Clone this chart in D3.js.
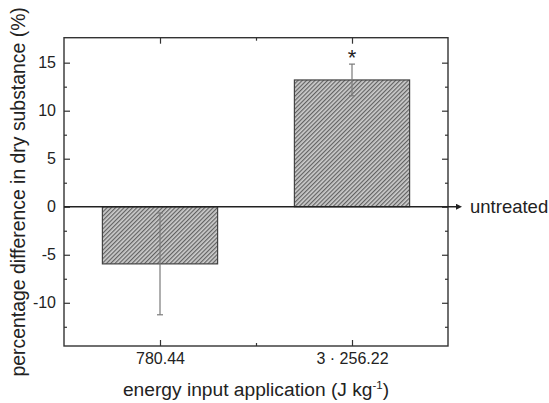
<!DOCTYPE html>
<html>
<head>
<meta charset="utf-8">
<script src="https://cdn.jsdelivr.net/npm/d3@7"></script>
<style>
  html, body { margin: 0; padding: 0; background: #fff; }
  svg { display: block; font-family: "Liberation Sans", Arial, sans-serif; }
</style>
</head>
<body>
<svg id="chart" width="549" height="403"></svg>
<script>
// Treatment groups and their mean change (%) with error (±)
const categories = ["780.44", "3 · 256.22"];
const means = [-5.95, 13.2];
const errors = [5.3, 1.65];
const significance = ["", "*"];
const yMajorTicks = [-10, -5, 0, 5, 10, 15];
const yMinorTicks = [-12.5, -7.5, -2.5, 2.5, 7.5, 12.5];
const xPositions = [1, 2];
const xMinorTicks = [1.5];

const svg = d3.select("#chart");
const plotLeft = 64, plotRight = 448, plotTop = 37.7, plotBottom = 346;

const x = d3.scaleLinear().domain([0.5, 2.5]).range([plotLeft, plotRight]);
const y = d3.scaleLinear().domain([-14.5, 17.6]).range([plotBottom, plotTop]);
const barWidth = 0.6;

// Hatch fill for the bars
const defs = svg.append("defs");
const pat = defs.append("pattern")
  .attr("id", "hatch")
  .attr("patternUnits", "userSpaceOnUse")
  .attr("width", 3).attr("height", 3)
  .attr("patternTransform", "rotate(45)");
pat.append("rect").attr("width", 3).attr("height", 3).attr("fill", "#cdcdcd");
pat.append("line").attr("x1", 0.6).attr("y1", 0).attr("x2", 0.6).attr("y2", 3)
  .attr("stroke", "#626262").attr("stroke-width", 1.2);

defs.append("marker")
  .attr("id", "arrow")
  .attr("viewBox", "0 0 10 10")
  .attr("refX", 0).attr("refY", 5)
  .attr("markerWidth", 6).attr("markerHeight", 6)
  .attr("markerUnits", "userSpaceOnUse")
  .attr("orient", "auto")
  .append("path").attr("d", "M0,0 L10,5 L0,10 Z").attr("fill", "#222");

// Bars
svg.append("g").selectAll("rect")
  .data(means)
  .join("rect")
  .attr("x", (d, i) => x(xPositions[i] - barWidth / 2))
  .attr("width", (d, i) => x(xPositions[i] + barWidth / 2) - x(xPositions[i] - barWidth / 2))
  .attr("y", d => y(Math.max(0, d)))
  .attr("height", d => Math.abs(y(d) - y(0)))
  .attr("fill", "url(#hatch)")
  .attr("stroke", "#444")
  .attr("stroke-width", 1.2);

// Error bars
const eb = svg.append("g").attr("stroke", "#7a7a7a").attr("stroke-width", 1.2);
means.forEach((m, i) => {
  const cx = x(xPositions[i]);
  const y1 = y(m + errors[i]), y2 = y(m - errors[i]);
  eb.append("line").attr("x1", cx).attr("x2", cx).attr("y1", y1).attr("y2", y2);
  eb.append("line").attr("x1", cx - 3).attr("x2", cx + 3).attr("y1", y1).attr("y2", y1);
  eb.append("line").attr("x1", cx - 3).attr("x2", cx + 3).attr("y1", y2).attr("y2", y2);
});

// Significance marks above the upper error cap
svg.append("g").selectAll("text")
  .data(significance)
  .join("text")
  .attr("x", (d, i) => x(xPositions[i]))
  .attr("y", (d, i) => y(means[i] + errors[i]) + 1)
  .attr("text-anchor", "middle")
  .attr("font-size", 22)
  .attr("fill", "#222")
  .text(d => d);

// Axes with inward ticks
function styleAxis(g) {
  g.select(".domain").remove();
  g.selectAll(".tick line").attr("stroke", "#333").attr("stroke-width", 1.2);
  g.selectAll(".tick text").attr("fill", "#222").attr("font-size", 16)
    .attr("font-family", "'Liberation Sans', Arial, sans-serif");
}

svg.append("g").attr("transform", `translate(${plotLeft},0)`)
  .call(d3.axisLeft(y).tickValues(yMajorTicks).tickSize(-6).tickPadding(8).tickFormat(d => String(d)))
  .call(styleAxis);
svg.append("g").attr("transform", `translate(${plotLeft},0)`)
  .call(d3.axisLeft(y).tickValues(yMinorTicks).tickSize(-3).tickFormat(""))
  .call(styleAxis);
svg.append("g").attr("transform", `translate(${plotRight},0)`)
  .call(d3.axisRight(y).tickValues(yMajorTicks).tickSize(-6).tickFormat(""))
  .call(styleAxis);
svg.append("g").attr("transform", `translate(${plotRight},0)`)
  .call(d3.axisRight(y).tickValues(yMinorTicks).tickSize(-3).tickFormat(""))
  .call(styleAxis);

svg.append("g").attr("transform", `translate(0,${plotBottom})`)
  .call(d3.axisBottom(x).tickValues(xPositions).tickSize(-6).tickPadding(7)
    .tickFormat((d, i) => categories[i]))
  .call(styleAxis);
svg.append("g").attr("transform", `translate(0,${plotBottom})`)
  .call(d3.axisBottom(x).tickValues(xMinorTicks).tickSize(-3).tickFormat(""))
  .call(styleAxis);
svg.append("g").attr("transform", `translate(0,${plotTop})`)
  .call(d3.axisTop(x).tickValues(xPositions).tickSize(-6).tickFormat(""))
  .call(styleAxis);
svg.append("g").attr("transform", `translate(0,${plotTop})`)
  .call(d3.axisTop(x).tickValues(xMinorTicks).tickSize(-3).tickFormat(""))
  .call(styleAxis);

// Frame
svg.append("rect")
  .attr("x", plotLeft).attr("y", plotTop)
  .attr("width", plotRight - plotLeft).attr("height", plotBottom - plotTop)
  .attr("fill", "none").attr("stroke", "#333").attr("stroke-width", 1.4);

// Zero reference line with arrow
svg.append("line")
  .attr("x1", plotLeft).attr("x2", 456)
  .attr("y1", y(0)).attr("y2", y(0))
  .attr("stroke", "#222").attr("stroke-width", 1.5)
  .attr("marker-end", "url(#arrow)");
svg.append("text")
  .attr("x", 470).attr("y", y(0) + 6.5)
  .attr("font-size", 18.5).attr("fill", "#222")
  .text("untreated");

// Axis titles
const xt = svg.append("text")
  .attr("x", (plotLeft + plotRight) / 2).attr("y", 396)
  .attr("text-anchor", "middle")
  .attr("font-size", 19.2).attr("fill", "#222");
xt.append("tspan").text("energy input application (J kg");
xt.append("tspan").attr("font-size", 11.5).attr("dy", -7).text("-1");
xt.append("tspan").attr("dy", 7).text(")");

svg.append("text")
  .attr("transform", `translate(25,${(plotTop + plotBottom) / 2}) rotate(-90)`)
  .attr("text-anchor", "middle")
  .attr("font-size", 19.4).attr("fill", "#222")
  .text("percentage difference in dry substance (%)");
</script>
</body>
</html>
